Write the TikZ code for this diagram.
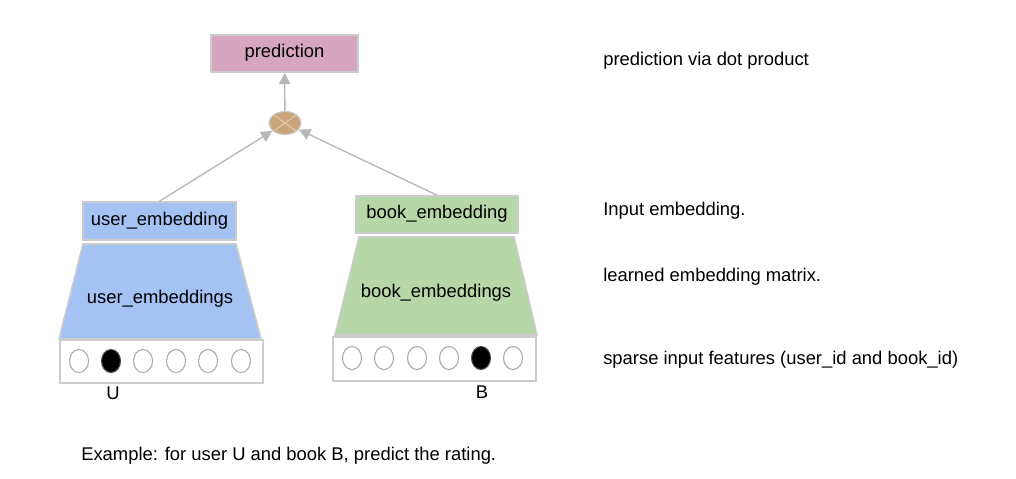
\documentclass[tikz,border=0pt]{standalone}
\usepackage{fontspec}
\setmainfont{Liberation Sans}
\usetikzlibrary{shapes.geometric,arrows.meta}
\definecolor{predc}{HTML}{D5A6BD}
\definecolor{userc}{HTML}{A4C2F4}
\definecolor{bookc}{HTML}{B6D7A8}
\definecolor{dotc}{HTML}{C9A57A}
\definecolor{edgec}{HTML}{CCCCCC}
\definecolor{cellc}{HTML}{AAAAAA}
\definecolor{arrc}{HTML}{B7B7B7}
\definecolor{xc}{HTML}{DDC3A5}
\tikzset{
  every node/.style={font=\fontsize{13.8}{16}\selectfont, inner sep=0pt},
  box/.style={draw=edgec, line width=1.2pt, rectangle, text height=0.72em, text depth=0.12em},
  bitcell/.style={draw=cellc, line width=0.8pt, ellipse, minimum width=14.25pt, minimum height=17.25pt, fill=white},
  hot/.style={bitcell, fill=black, draw=black!70},
  conn/.style={draw=arrc, line width=1pt, -{Triangle[length=8.5pt,width=8.5pt]}},
  note/.style={anchor=west}
}
\begin{document}
\begin{tikzpicture}[x=0.75pt,y=-0.75pt]
\useasboundingbox (0,0) rectangle (1016,478);
% top
\node[box, fill=predc, minimum width=110.25pt, minimum height=27.75pt] (pred) at (284.5,53.5) {prediction};
\node[ellipse, draw=edgec, line width=0.9pt, fill=dotc, minimum width=24pt, minimum height=17.25pt] (dot) at (285,123) {};
\draw[xc, line width=1pt] (dot.north west) -- (dot.south east) (dot.north east) -- (dot.south west);
% embeddings
\node[box, fill=userc, minimum width=114.75pt, minimum height=28.5pt] (ue) at (159.5,221) {user\_embedding};
\node[box, fill=bookc, minimum width=121.5pt, minimum height=27.75pt] (be) at (437,214.5) {book\_embedding};
\draw[conn] (dot) -- (pred);
\draw[conn] (ue.north) -- (dot);
\draw[conn] (be.north) -- (dot);
% trapezoids
\draw[edgec, line width=1.2pt, fill=userc] (83,244) -- (236,244) -- (261,339) -- (59,339) -- cycle;
\node (uem) at (160,299) {user\_embeddings};
\draw[edgec, line width=1.2pt, fill=bookc] (359,237) -- (514,237) -- (537,335) -- (335,335) -- cycle;
\node (bem) at (436,293) {book\_embeddings};
% input boxes
\node[box, fill=white, minimum width=152.25pt, minimum height=32.25pt] (uin) at (161.5,361.5) {};
\node[box, fill=white, minimum width=152.25pt, minimum height=33pt] (bin) at (434.5,359) {};
\node[bitcell] (u1) at (79,361) {};
\node[hot] (u2) at (111,361) {};
\node[bitcell] (u3) at (143,361) {};
\node[bitcell] (u4) at (176,361) {};
\node[bitcell] (u5) at (208,361) {};
\node[bitcell] (u6) at (241,361) {};
\node[bitcell] (b1) at (352,358) {};
\node[bitcell] (b2) at (384,358) {};
\node[bitcell] (b3) at (417,358) {};
\node[bitcell] (b4) at (449,358) {};
\node[hot] (b5) at (481,358) {};
\node[bitcell] (b6) at (513,358) {};
\node (ulab) at (113,393) {U};
\node (blab) at (482,392) {B};
% notes
\node[note] (n1) at (603,61) {prediction via dot product};
\node[note] (n2) at (603,211) {Input embedding.};
\node[note] (n3) at (603,277) {learned embedding matrix.};
\node[note] (n4) at (603,360) {sparse input features (user\_id and book\_id)};
\node[note] (n5) at (81,456) {Example: for user U and book B, predict the rating.};
\end{tikzpicture}
\end{document}
